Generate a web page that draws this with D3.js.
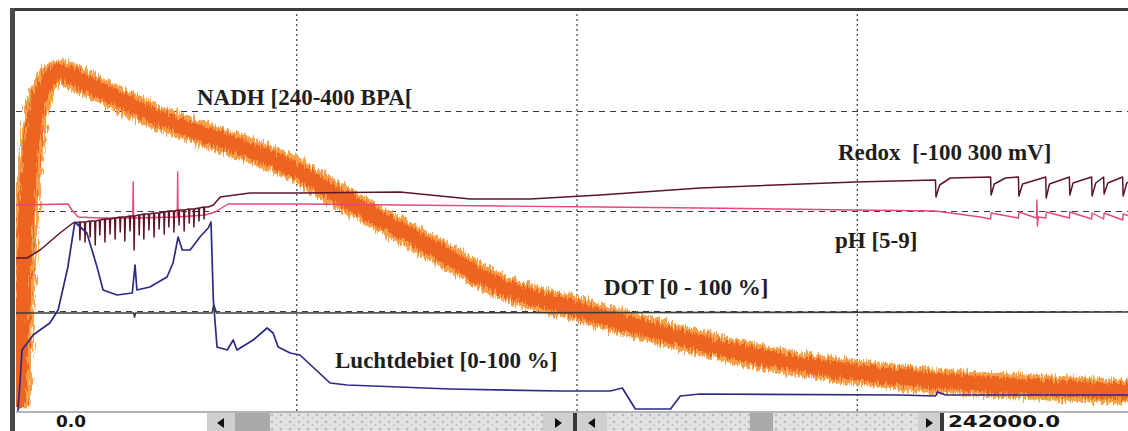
<!DOCTYPE html>
<html lang="nl">
<head>
<meta charset="utf-8">
<title>Fermentatie</title>
<script src="https://cdn.jsdelivr.net/npm/d3@7"></script>
<style>
	body { margin: 0; background: #fff; }
	svg { display: block; }

	/* grid */
	.grid path.domain { display: none; }
	.grid line { stroke: #3c3c3c; stroke-width: 1.2; }
	.gx line { stroke-dasharray: 2 3; }
	.gy line { stroke-dasharray: 6 5; }

	/* traces */
	.trace { fill: none; stroke-linejoin: round; }

	.label {
		font-family: "Liberation Serif", "Times New Roman", serif;
		font-weight: bold;
		font-size: 23px;
		fill: #1e1e1e;
	}
	.scroll-text {
		font-family: "DejaVu Sans", sans-serif;
		font-weight: bold;
		font-size: 16px;
		fill: #151515;
	}
</style>
</head>
<body>
<div id="vis"></div>
<script>

/* Data */
/* ==== */

const timeMax = 242000;
const gridTimes = [60500, 121000, 181500];
const gridFractions = [0.25, 0.5, 0.75];

const seriesNames = ["NADH [240-400 BPA[", "Redox  [-100 300 mV]", "pH [5-9]", "DOT [0 - 100 %]", "Luchtdebiet [0-100 %]"];
const seriesRanges = [[240, 400], [-100, 300], [5, 9], [0, 100], [0, 100]];

const nadhTime = [400, 1100, 1900, 3000, 4300, 6000, 7800, 9500, 11700, 18100, 28900, 39700, 50500, 60300,
	70000, 82900, 93700, 104500, 121800, 143400, 160700, 181200, 201700, 223300, 242000];
const nadhValue = [241.2, 272.4, 308.4, 338.4, 358.4, 369.2, 374.4, 375.6, 374.0, 368.4, 358.8, 351.2, 344.4, 336.4,
	325.6, 312.4, 301.2, 290.0, 280.4, 269.2, 261.6, 255.6, 251.6, 249.2, 247.6];

// redox: slow course plus the sawtooth after ~198000 s
const redoxTime = [0, 2400, 5200, 9500, 12300, 12700, 41500, 42600, 44100, 50500, 61300, 82900, 98100, 111000, 126100,
	147700, 181200, 198500, 198600, 199400, 201700, 210400, 210500, 211200, 213600, 216400, 216500, 217300,
	222300, 222400, 223100, 227400, 227500, 228200, 232200, 232300, 233100, 234800, 234900, 235700, 238900,
	239000, 239800, 242000];
const redoxValue = [53, 53, 61, 78, 88, 88, 104, 106, 114, 118, 118, 119, 112, 112, 116,
	123, 129, 131, 114, 126, 133, 134, 116, 127, 133, 134, 115, 127,
	134, 113, 127, 134, 116, 128, 134, 115, 128, 134, 117, 128, 134,
	115, 128, 133];
// redox: short downward spikes during the first aeration phase
const redoxSpikeTime = [13800, 14900, 16000, 17100, 18100, 19200, 20300, 21400, 22500, 23500, 24600, 25500, 26600,
	27600, 28700, 29800, 30900, 32000, 33000, 34100, 35200, 36300, 37400, 38400, 39500, 40600];
const redoxSpikeBase = [89, 89, 90, 90, 91, 92, 92, 93, 94, 94, 95, 95, 96,
	97, 97, 98, 98, 99, 100, 100, 101, 101, 102, 102, 103, 104];
const redoxSpikeLow = [71, 69, 74, 66, 76, 69, 77, 72, 79, 70, 80, 61, 76,
	72, 81, 74, 82, 77, 84, 79, 86, 80, 88, 84, 90, 92];

const phTime = [0, 11200, 12100, 13400, 18100, 25200, 25300, 25400, 34800, 34900, 35000, 40800, 43000, 45800,
	61300, 82900, 104500, 126100, 147700, 181200, 198500, 208200, 210400, 210500, 216400, 216500, 220300,
	220400, 220500, 220700, 222300, 222400, 227400, 227500, 232200, 232300, 234800, 234900, 238900, 239000, 242000];
const phValue = [7.06, 7.07, 7.01, 6.94, 6.93, 6.93, 7.29, 6.93, 6.94, 7.39, 6.94, 6.96, 6.99, 7.07,
	7.07, 7.06, 7.05, 7.04, 7.03, 7.01, 7.00, 6.94, 6.92, 6.98, 6.93, 6.99, 6.93,
	7.11, 6.85, 6.94, 6.93, 6.99, 6.93, 6.99, 6.92, 6.98, 6.92, 6.98, 6.91, 6.97, 6.93];

const dotTime = [0, 25400, 25600, 25800, 42300, 42700, 43300, 242000];
const dotValue = [24.5, 24.5, 23.5, 24.5, 24.5, 26.5, 24.5, 24.75];

const luchtTime = [400, 900, 1300, 3700, 7300, 9100, 11200, 12700, 15300, 17500, 18800, 21800, 25100, 25700,
	26100, 28900, 32600, 33900, 35000, 35900, 37600, 39700, 41500, 42100, 42600, 43400, 45600, 46900, 47700,
	51200, 54200, 55500, 56600, 59200, 61300, 67800, 71500, 93700, 117500, 128300, 130900, 133700, 141300,
	143400, 147700, 190900, 198500, 198900, 200700, 242000];
const luchtValue = [0, 7.75, 15.25, 19, 22, 25.25, 36, 47.25, 44.5, 36, 30.25, 29, 29.5, 36.5,
	30.25, 31, 33.5, 37, 43.5, 40.25, 40.25, 43.5, 45.75, 47.25, 27.75, 16, 15.25, 17.75, 15.25,
	17.75, 20.75, 19.5, 16, 14.5, 14, 7, 6.5, 5.5, 5, 5, 5.75, 0.5, 0.5,
	3.75, 4.25, 4, 3.75, 4.75, 4, 4];


function make() {

	/* Set up */
	/* ====== */

	var width = 1128, height = 431;
	var plot = { left: 16, right: 1137, top: 11, bottom: 411 };

	var svg = d3.select('#vis').append('svg')
		.attr('width', width)
		.attr('height', height);

	var defs = svg.append('defs');

	// rough edge for the noisy NADH band
	var rough = defs.append('filter').attr('id', 'rough')
		.attr('x', '-2%').attr('y', '-10%').attr('width', '104%').attr('height', '120%');
	rough.append('feTurbulence').attr('type', 'fractalNoise')
		.attr('baseFrequency', '0.6 0.08').attr('numOctaves', 2).attr('seed', 4).attr('result', 'n');
	rough.append('feDisplacementMap').attr('in', 'SourceGraphic').attr('in2', 'n')
		.attr('scale', 13).attr('xChannelSelector', 'R').attr('yChannelSelector', 'G');

	// speckled scrollbar track
	var stip = defs.append('pattern').attr('id', 'stip')
		.attr('width', 9).attr('height', 7).attr('patternUnits', 'userSpaceOnUse');
	stip.append('rect').attr('width', 9).attr('height', 7).attr('fill', '#e2e2e2');
	stip.append('circle').attr('cx', 2).attr('cy', 2).attr('r', 1.3).attr('fill', '#b9b9b9');
	stip.append('circle').attr('cx', 6.5).attr('cy', 5).attr('r', 1.1).attr('fill', '#c6c6c6');

	defs.append('clipPath').attr('id', 'plotclip').append('rect')
		.attr('x', plot.left).attr('y', plot.top)
		.attr('width', plot.right - plot.left).attr('height', plot.bottom - plot.top);


	/* Scales */
	/* ====== */

	var xScale = d3.scaleLinear().domain([0, timeMax]).range([plot.left, plot.right]);
	var fScale = d3.scaleLinear().domain([0, 1]).range([plot.bottom, plot.top]);
	var yScales = seriesRanges.map(function (r) {
		return d3.scaleLinear().domain(r).range([plot.bottom, plot.top]);
	});


	/* Grid */
	/* ==== */

	svg.append('g').attr('class', 'grid gx')
		.attr('transform', 'translate(0,' + plot.bottom + ')')
		.call(d3.axisBottom(xScale).tickValues(gridTimes)
			.tickSize(-(plot.bottom - plot.top)).tickFormat(''));

	svg.append('g').attr('class', 'grid gy')
		.attr('transform', 'translate(' + plot.left + ',0)')
		.call(d3.axisLeft(fScale).tickValues(gridFractions)
			.tickSize(-(plot.right - plot.left)).tickFormat(''));


	/* Traces */
	/* ====== */

	function zip(t, v) { return t.map(function (d, i) { return [d, v[i]]; }); }

	function lineFor(k) {
		return d3.line()
			.x(function (d) { return xScale(d[0]); })
			.y(function (d) { return yScales[k](d[1]); });
	}

	// merge the spike table into the redox course
	var redox = zip(redoxTime, redoxValue);
	redoxSpikeTime.forEach(function (t, i) {
		redox.push([t - 100, redoxSpikeBase[i]], [t, redoxSpikeLow[i]], [t + 120, redoxSpikeBase[i]]);
	});
	redox.sort(function (a, b) { return a[0] - b[0]; });

	var gTraces = svg.append('g').attr('clip-path', 'url(#plotclip)');

	var nadh = zip(nadhTime, nadhValue);
	gTraces.append('path').datum(nadh).attr('class', 'trace')
		.attr('d', lineFor(0).curve(d3.curveMonotoneX))
		.attr('stroke', '#f6a04a').attr('stroke-width', 25)
		.attr('filter', 'url(#rough)');
	gTraces.append('path').datum(nadh).attr('class', 'trace')
		.attr('d', lineFor(0).curve(d3.curveMonotoneX))
		.attr('stroke', '#ec6424').attr('stroke-width', 16)
		.attr('filter', 'url(#rough)');

	gTraces.append('path').datum(zip(phTime, phValue)).attr('class', 'trace')
		.attr('d', lineFor(2)).attr('stroke', '#e9467c').attr('stroke-width', 1.4);

	gTraces.append('path').datum(redox).attr('class', 'trace')
		.attr('d', lineFor(1)).attr('stroke', '#5e1528').attr('stroke-width', 1.5);

	gTraces.append('path').datum(zip(dotTime, dotValue)).attr('class', 'trace')
		.attr('d', lineFor(3)).attr('stroke', '#3a4038').attr('stroke-width', 1.6);

	gTraces.append('path').datum(zip(luchtTime, luchtValue)).attr('class', 'trace')
		.attr('d', lineFor(4)).attr('stroke', '#2c2a84').attr('stroke-width', 1.7);


	/* Labels */
	/* ====== */

	var labelPos = [[197, 105], [838, 160], [835, 248], [604, 295], [335, 368]];
	svg.selectAll('.label').data(seriesNames).enter()
		.append('text').attr('class', 'label')
		.attr('x', function (d, i) { return labelPos[i][0]; })
		.attr('y', function (d, i) { return labelPos[i][1]; })
		.attr('xml:space', 'preserve')
		.text(function (d) { return d; });


	/* Frame */
	/* ===== */

	svg.append('rect').attr('x', plot.left - 5).attr('y', plot.top - 3)
		.attr('width', width).attr('height', 3).attr('fill', '#3b3b3b');
	svg.append('rect').attr('x', plot.left - 6).attr('y', plot.top - 3)
		.attr('width', 5).attr('height', height).attr('fill', '#4a4a4a');
	svg.append('line').attr('x1', plot.left).attr('x2', width)
		.attr('y1', plot.bottom + 1).attr('y2', plot.bottom + 1)
		.attr('stroke', '#6a6a6a').attr('stroke-width', 1.2);


	/* Scrollbar */
	/* ========= */

	var sb = svg.append('g').attr('transform', 'translate(0,' + (plot.bottom + 2) + ')');
	var sbH = height - plot.bottom - 2;
	var fmt = d3.format('.1f');

	// range labels, stretched like the wide system font of the original
	sb.append('text').attr('class', 'scroll-text')
		.attr('x', 56).attr('y', sbH - 4)
		.attr('textLength', 30).attr('lengthAdjust', 'spacingAndGlyphs')
		.text(fmt(xScale.domain()[0]));
	sb.append('text').attr('class', 'scroll-text')
		.attr('x', 948).attr('y', sbH - 4)
		.attr('textLength', 112).attr('lengthAdjust', 'spacingAndGlyphs')
		.text(fmt(xScale.domain()[1]));

	var parts = [
		{ x: 207, w: 28, kind: 'left' }, { x: 235, w: 35, kind: 'thumb' }, { x: 270, w: 273, kind: 'track' },
		{ x: 543, w: 30, kind: 'right' }, { x: 573, w: 4, kind: 'sep' },
		{ x: 577, w: 30, kind: 'left' }, { x: 607, w: 143, kind: 'track' }, { x: 750, w: 23, kind: 'thumb' },
		{ x: 773, w: 145, kind: 'track' }, { x: 918, w: 22, kind: 'right' }, { x: 940, w: 4, kind: 'sep' }
	];
	var fills = { left: '#cfcfcf', right: '#cfcfcf', thumb: '#a9a9a9', track: 'url(#stip)', sep: '#3a3a3a' };

	sb.selectAll('.sbpart').data(parts).enter().append('rect')
		.attr('class', 'sbpart')
		.attr('x', function (d) { return d.x; }).attr('y', 0)
		.attr('width', function (d) { return d.w; }).attr('height', sbH)
		.attr('fill', function (d) { return fills[d.kind]; });

	sb.selectAll('.arrow').data(parts.filter(function (d) { return d.kind === 'left' || d.kind === 'right'; }))
		.enter().append('path').attr('class', 'arrow')
		.attr('fill', '#111')
		.attr('d', function (d) {
			var cx = d.x + d.w / 2, cy = sbH / 2 + 1;
			return d.kind === 'left'
				? 'M' + (cx + 3) + ',' + (cy - 5) + 'L' + (cx - 4) + ',' + cy + 'L' + (cx + 3) + ',' + (cy + 5) + 'Z'
				: 'M' + (cx - 3) + ',' + (cy - 5) + 'L' + (cx + 4) + ',' + cy + 'L' + (cx - 3) + ',' + (cy + 5) + 'Z';
		});

} // make()

make();

</script>
</body>
</html>
